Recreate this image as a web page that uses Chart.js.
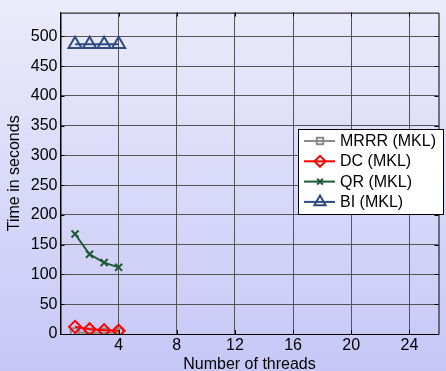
<!DOCTYPE html>
<html>
<head>
<meta charset="utf-8">
<script src="https://cdn.jsdelivr.net/npm/chart.js@4.4.1/dist/chart.umd.min.js"></script>
<style>
  html, body { margin: 0; padding: 0; overflow: hidden; }
  body { width: 446px; height: 371px; background: linear-gradient(to bottom, #ebebfa 0%, #d9d9f9 50%, #c7c7f7 100%); }
  #wrap { position: relative; width: 448px; height: 371px; }
</style>
</head>
<body>
<div id="wrap"><canvas id="chart"></canvas></div>
<script>
// Thread counts and run times (seconds) per eigensolver
const threads = [1, 2, 3, 4];
const mrrr = [2.5, 2, 2, 2];
const dc = [12, 8, 6.5, 5.5];
const qr = [168, 134, 120, 112];
const bi = [487, 487, 487, 487];

const xTicks = [4, 8, 12, 16, 20, 24];
const yTicks = [0, 50, 100, 150, 200, 250, 300, 350, 400, 450, 500];

const seriesNames = ['MRRR (MKL)', 'DC (MKL)', 'QR (MKL)', 'BI (MKL)'];
const FONT = '"Liberation Sans", Arial, sans-serif';

function pts(ys) { return threads.map((t, i) => ({ x: t, y: ys[i] })); }

const styles = [
  { color: '#8a8a8a', point: 'rect', radius: 6, legendRadius: 4.5 },
  { color: '#ff0000', point: 'rectRot', radius: 6, legendRadius: 5.5 },
  { color: '#1d5a35', point: 'crossRot', radius: 5, legendRadius: 4 },
  { color: '#2f4b80', point: 'triangle', radius: 7.5, legendRadius: 6.5 }
];

const datasets = [mrrr, dc, qr, bi].map((ys, i) => ({
  label: seriesNames[i],
  data: pts(ys),
  order: 4 - i,
  borderColor: styles[i].color,
  backgroundColor: 'rgba(0,0,0,0)',
  borderWidth: 2,
  pointStyle: styles[i].point,
  pointRadius: styles[i].radius,
  pointBorderWidth: 2,
  pointBackgroundColor: 'rgba(0,0,0,0)',
  pointBorderColor: styles[i].color,
  tension: 0
}));

// Box frame, inward tick marks and an inset legend
const framePlugin = {
  id: 'frame',
  afterDatasetsDraw(chart) {
    const { ctx, chartArea: a, scales } = chart;
    ctx.save();
    ctx.strokeStyle = '#000';
    ctx.lineWidth = 1;
    ctx.beginPath();
    ctx.rect(a.left + 0.5, a.top + 0.5, a.right - a.left, a.bottom - a.top);
    ctx.stroke();
    const L = 4;
    ctx.beginPath();
    xTicks.forEach(v => {
      const px = Math.round(scales.x.getPixelForValue(v)) + 0.5;
      ctx.moveTo(px, a.bottom); ctx.lineTo(px, a.bottom - L);
      ctx.moveTo(px, a.top); ctx.lineTo(px, a.top + L);
    });
    yTicks.forEach(v => {
      const py = Math.round(scales.y.getPixelForValue(v)) + 0.5;
      ctx.moveTo(a.left, py); ctx.lineTo(a.left + L, py);
      ctx.moveTo(a.right, py); ctx.lineTo(a.right - L, py);
    });
    ctx.stroke();

    // legend box
    const bx = 298.5, by = 129.5, bw = 145, bh = 85;
    ctx.fillStyle = '#ffffff';
    ctx.fillRect(bx, by, bw, bh);
    ctx.strokeStyle = '#000';
    ctx.lineWidth = 1;
    ctx.strokeRect(bx, by, bw, bh);
    ctx.font = '16px ' + FONT;
    ctx.textBaseline = 'middle';
    ctx.textAlign = 'left';
    chart.data.datasets.forEach((ds, i) => {
      const cy = 141 + i * 20.3;
      ctx.strokeStyle = ds.borderColor;
      ctx.fillStyle = 'rgba(0,0,0,0)';
      ctx.lineWidth = 2;
      ctx.beginPath();
      ctx.moveTo(304, cy); ctx.lineTo(335, cy);
      ctx.stroke();
      Chart.helpers.drawPoint(ctx, {
        pointStyle: ds.pointStyle,
        radius: styles[i].legendRadius,
        borderWidth: 2,
        rotation: 0
      }, 320, cy);
      ctx.fillStyle = '#000';
      ctx.fillText(ds.label, 340, cy + 0.5);
    });
    ctx.restore();
  }
};

new Chart(document.getElementById('chart'), {
  type: 'line',
  data: { datasets },
  options: {
    responsive: true,
    maintainAspectRatio: false,
    animation: false,
    layout: { padding: { top: 7.5, right: 0, left: 0, bottom: 0 } },
    plugins: { legend: { display: false }, tooltip: { enabled: false } },
    scales: {
      x: {
        type: 'linear',
        min: 0, max: 26,
        afterBuildTicks(s) { s.ticks = xTicks.map(v => ({ value: v })); },
        afterFit(s) { s.height = 37; },
        grid: { color: '#555', lineWidth: 1, borderDash: [1, 3], drawTicks: false },
        border: { display: true, color: '#000', width: 1 },
        ticks: { color: '#000', font: { family: FONT, size: 16 }, padding: 2, maxRotation: 0 },
        title: { display: true, text: 'Number of threads', color: '#000', font: { family: FONT, size: 16, lineHeight: 0.75 }, padding: 0 }
      },
      y: {
        type: 'linear',
        min: 0, max: 540,
        afterBuildTicks(s) { s.ticks = yTicks.map(v => ({ value: v })); },
        afterFit(s) { s.width = 60.5; },
        grid: { color: '#555', lineWidth: 1, borderDash: [1, 3], drawTicks: false },
        border: { display: true, color: '#000', width: 1 },
        ticks: { color: '#000', font: { family: FONT, size: 16 }, padding: 3 },
        title: { display: true, text: 'Time in seconds', color: '#000', font: { family: FONT, size: 16, lineHeight: 1 }, padding: { top: 7, bottom: 0 } }
      }
    }
  },
  plugins: [framePlugin]
});
</script>
</body>
</html>
